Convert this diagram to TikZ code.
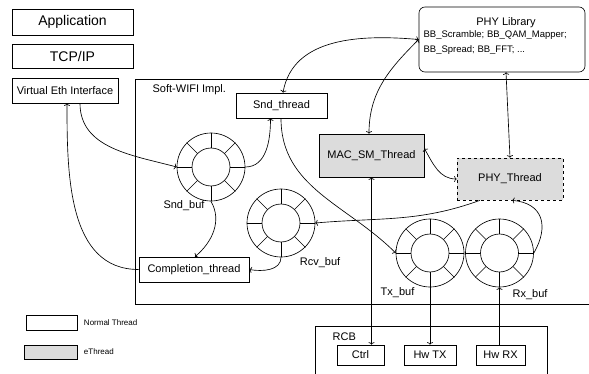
\documentclass[tikz,border=0pt]{standalone}
\usepackage{fontspec}
\setmainfont{Liberation Sans}
\usetikzlibrary{positioning,arrows.meta}
\definecolor{egray}{RGB}{220,220,220}
\tikzset{
  box/.style={draw, inner sep=0pt},
  ebox/.style={draw, fill=egray, inner sep=0pt},
  ring/.style={draw, circle, inner sep=0pt, minimum size=68},
  lbl/.style={inner sep=1pt}
}
\begin{document}
\begin{tikzpicture}[x=1pt,y=1pt,line width=0.65pt,>={To[length=2.5pt,width=6pt]},font=\fontsize{11}{13}\selectfont]
    \useasboundingbox (0,0) rectangle (589,373);
    \draw (600,294) -| (135,69) -- (600,69);
    \draw (315,-10) |- (547,47) -- (547,-10);

    \node[box, minimum width=121, minimum height=26, font=\fontsize{14}{16}\selectfont] (app) at (72.5,351) {Application};
    \node[box, minimum width=121, minimum height=24, font=\fontsize{14}{16}\selectfont] (tcp) at (72.5,317) {TCP/IP};
    \node[box, minimum width=106, minimum height=25] (veth) at (65,282.5) {Virtual Eth Interface};
    \node[anchor=west] (swimpl) at (149,283) {Soft-WIFI Impl.};

    \node[box, minimum width=91, minimum height=25] (sndthr) at (281.5,267.5) {Snd\_thread};
    \node[ebox, minimum width=105, minimum height=43] (mac) at (371.5,217.5) {MAC\_SM\_Thread};
    \node[ebox, dashed, minimum width=106, minimum height=42] (phythr) at (510,194) {PHY\_Thread};
    \node[box, minimum width=110, minimum height=25] (compl) at (194,103.5) {Completion\_thread};

    \node[box, rounded corners=6, minimum width=166, minimum height=65] (phylib) at (502,333.5) {};
    \node (phytitle) at (506,350) {PHY Library};
    \node[anchor=west, align=left, font=\fontsize{9.5}{15}\selectfont] (phylist) at (420,330) {BB\_Scramble; BB\_QAM\_Mapper;\\BB\_Spread; BB\_FFT; ...};

    \foreach \n/\x/\y in {sndbuf/211/206, rcvbuf/281/150, txbuf/430/120, rxbuf/499.5/120}{
        \node[ring] (\n) at (\x,\y) {};
        \node[ring, minimum size=38] (\n-in) at (\x,\y) {};
        \foreach \a in {0,45,...,315}
            \draw (\n.\a) -- (\n-in.\a);
    }
    \node[lbl] (sndlbl) at (184,167) {Snd\_buf};
    \node[lbl] (rcvlbl) at (320,110) {Rcv\_buf};
    \node[lbl] (txlbl) at (397.5,80) {Tx\_buf};
    \node[lbl] (rxlbl) at (530,78) {Rx\_buf};

    \node[anchor=west] (rcb) at (329,36) {RCB};
    \node[box, minimum width=47, minimum height=20] (ctrl) at (360.5,18) {Ctrl};
    \node[box, minimum width=52, minimum height=20] (hwtx) at (430,18) {Hw TX};
    \node[box, minimum width=49, minimum height=20] (hwrx) at (500.5,18) {Hw RX};

    \node[box, minimum width=51, minimum height=15] (lgnorm) at (51.5,50.5) {};
    \node[right=3pt of lgnorm, font=\fontsize{8}{9}\selectfont] (lgnormtxt) {Normal Thread};
    \node[ebox, minimum width=53, minimum height=14] (lge) at (50.5,21) {};
    \node[right=3pt of lge, font=\fontsize{8}{9}\selectfont] (lgetxt) {eThread};

    \draw[->] ([xshift=15]veth.south) to[out=-90,in=165] (sndbuf.west);
    \draw[->] (compl.west) to[out=180,in=-90] ([xshift=2]veth.south);
    \draw[->] (sndbuf.east) to[out=0,in=-90] ([xshift=-11]sndthr.south);
    \draw[->] (sndbuf.south) to[out=-60,in=40] ([xshift=1]compl.north);
    \draw[->] (rcvbuf.south) to[out=-90,in=-10] (compl.east);
    \draw[<->] ([xshift=1.5]sndthr.north) to[out=80,in=175] (phylib.west);
    \draw[<->] ([xshift=-2.5]mac.north) to[out=90,in=-135] (phylib.west);
    \draw[<->] ([xshift=4]phylib.south) -- (phythr.north);
    \draw[<->] ([yshift=7]mac.east) to[out=-60,in=180] (phythr.west);
    \draw[<->] (mac.south) -- (mac.south |- ctrl.north);
    \draw[->] (txbuf.south) -- (txbuf.south |- hwtx.north);
    \draw[->] (rxbuf.south |- hwrx.north) -- (rxbuf.south);
    \draw[->] ([xshift=-0.5]sndthr.south) to[out=-90,in=135] (txbuf.west);
    \draw[->] ([xshift=-30]phythr.south) to[out=200,in=5] (rcvbuf.east);
    \draw[->] (rxbuf.east) to[out=60,in=-5,looseness=1.4] ([xshift=2]phythr.south);
\end{tikzpicture}
\end{document}
